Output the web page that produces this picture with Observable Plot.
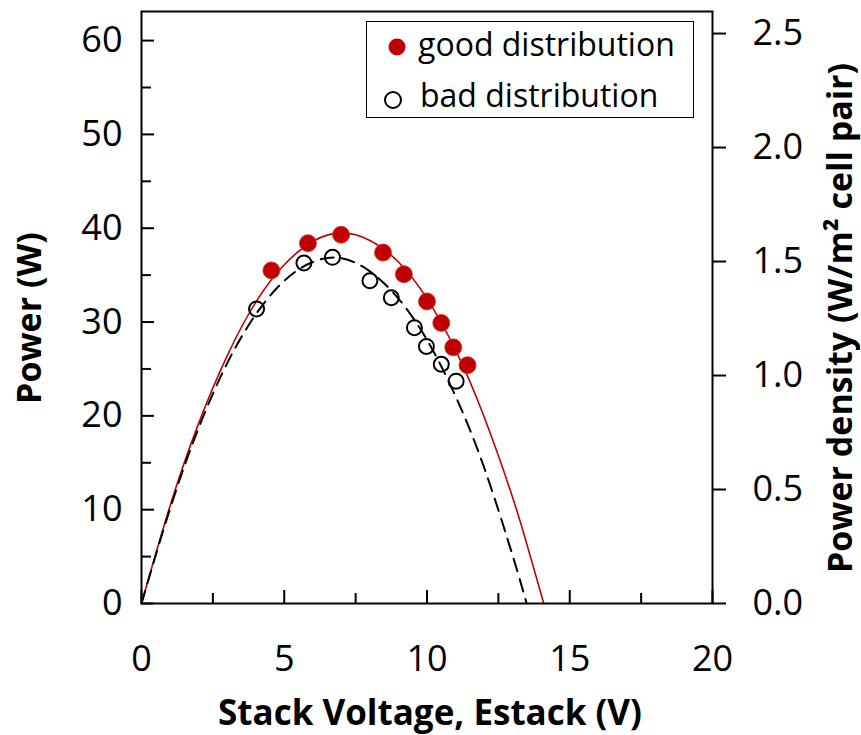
<!DOCTYPE html>
<html><head><meta charset="utf-8">
<script src="https://cdn.jsdelivr.net/npm/d3@7"></script>
<script src="https://cdn.jsdelivr.net/npm/@observablehq/plot@0.6"></script>
<style>
body{margin:0;background:#fff;}
#wrap{position:relative;width:861px;height:735px;font-family:"Open Sans",sans-serif;color:#000;}
#wrap svg{display:block;}
.ttl{position:absolute;font-weight:bold;font-size:35px;line-height:1;white-space:nowrap;}
.leg{position:absolute;font-size:32px;line-height:1;white-space:nowrap;}
#legbox{position:absolute;left:366px;top:21px;width:328px;height:97px;box-sizing:border-box;border:1.5px solid #000;background:#fff;}
</style></head><body>
<div id="wrap"></div>
<script>
// measured points
const goodV = [4.55, 5.83, 6.99, 8.46, 9.19, 10.0, 10.5, 10.92, 11.42];
const goodP = [35.5, 38.4, 39.3, 37.4, 35.1, 32.2, 29.9, 27.3, 25.4];
const badV  = [4.03, 5.69, 6.69, 8.0, 8.75, 9.56, 9.98, 10.5, 11.02];
const badP  = [31.4, 36.3, 36.9, 34.4, 32.6, 29.4, 27.4, 25.5, 23.7];
// fitted curves
const goodFitV = [0, 1, 2, 3, 4, 5, 6, 7, 8, 9, 10, 11, 12, 13, 13.5, 14.09];
const goodFitP = [0, 10.4, 19.2, 26.4, 32.1, 36.1, 38.6, 39.5, 38.7, 36.4, 32.5, 27.0, 19.9, 11.3, 6.3, 0];
const badFitV  = [0, 1, 2, 3, 4, 5, 6, 7, 8, 9, 10, 11, 12, 13, 13.49];
const badFitP  = [0, 10.1, 18.7, 25.6, 30.8, 34.4, 36.4, 36.8, 35.4, 32.5, 28.1, 22.1, 14.5, 5.1, 0];
// axes
const xTicksMajor = [0, 5, 10, 15, 20];
const xTicksMinor = [2.5, 7.5, 12.5, 17.5];
const yTicksMajor = [0, 10, 20, 30, 40, 50, 60];
const yTicksMinor = [5, 15, 25, 35, 45, 55];
const densityTicks = [0, 0.5, 1.0, 1.5, 2.0, 2.5];
const densityLabels = ["0.0", "0.5", "1.0", "1.5", "2.0", "2.5"];
const wattsPerDensity = 24.3;
const seriesNames = ["good distribution", "bad distribution"];
const red = "#C00000";

const good = goodV.map((v, i) => ({v, p: goodP[i]}));
const bad = badV.map((v, i) => ({v, p: badP[i]}));
const goodFit = goodFitV.map((v, i) => ({v, p: goodFitP[i]}));
const badFit = badFitV.map((v, i) => ({v, p: badFitP[i]}));
const densityPos = densityTicks.map(d => d * wattsPerDensity);

const chart = Plot.plot({
  width: 861, height: 735,
  marginLeft: 141, marginRight: 149, marginTop: 11, marginBottom: 132,
  x: {domain: [0, 20]},
  y: {domain: [0, 63.1]},
  style: {fontFamily: "Open Sans, sans-serif", color: "#000", background: "#fff"},
  marks: [
    Plot.axisX(xTicksMajor, {tickSize: -13, tickFormat: () => "", strokeWidth: 2, label: null}),
    Plot.axisX(xTicksMinor, {tickSize: -10, tickFormat: () => "", strokeWidth: 2, label: null}),
    Plot.axisX(xTicksMajor, {tickSize: 0, tickPadding: 42, fontSize: 36, label: null}),
    Plot.axisY(yTicksMajor, {anchor: "left", tickSize: -13, tickFormat: () => "", strokeWidth: 2, label: null}),
    Plot.axisY(yTicksMinor, {anchor: "left", tickSize: -10, tickFormat: () => "", strokeWidth: 2, label: null}),
    Plot.axisY(yTicksMajor, {anchor: "left", tickSize: 0, tickPadding: 19, fontSize: 36, label: null}),
    Plot.axisY(densityPos, {anchor: "right", tickSize: 13, tickPadding: 27, strokeWidth: 2, fontSize: 36, label: null,
      tickFormat: d => densityLabels[densityPos.findIndex(t => Math.abs(t - d) < 1e-6)]}),
    Plot.line(goodFit, {x: "v", y: "p", stroke: red, strokeWidth: 1.6, curve: "natural"}),
    Plot.line(badFit, {x: "v", y: "p", stroke: "#000", strokeWidth: 2, strokeDasharray: "13,8", curve: "natural"}),
    Plot.dot(bad, {x: "v", y: "p", r: 7.5, stroke: "#000", strokeWidth: 2, fill: "none"}),
    Plot.dot(good, {x: "v", y: "p", r: 8.5, fill: red, stroke: "#d03030", strokeWidth: 0.8}),
    Plot.frame({stroke: "#000", strokeWidth: 2})
  ]
});
const wrap = document.getElementById("wrap");
wrap.appendChild(chart);

function addDiv(cls, html, css) {
  const d = document.createElement("div");
  d.className = cls; d.innerHTML = html; d.style.cssText = css;
  wrap.appendChild(d); return d;
}
addDiv("ttl", "Stack Voltage, Estack (V)", "left:430px;top:694px;transform:translateX(-50%);");
addDiv("ttl", "Power (W)", "left:27.5px;top:318px;font-size:34px;transform:translate(-50%,-50%) rotate(-90deg);");
addDiv("ttl", "Power density (W/m² cell pair)", "left:838.5px;top:318px;font-size:34px;transform:translate(-50%,-50%) rotate(-90deg);");

const box = document.createElement("div"); box.id = "legbox"; wrap.appendChild(box);
addDiv("leg", `<svg width="20" height="20" style="position:absolute;left:-31px;top:9px"><circle cx="10" cy="10" r="8.5" fill="${red}"/></svg>${seriesNames[0]}`, "left:418px;top:27.6px;");
addDiv("leg", `<svg width="22" height="22" style="position:absolute;left:-38px;top:9.5px"><circle cx="11" cy="11" r="8" fill="none" stroke="#000" stroke-width="2"/></svg>${seriesNames[1]}`, "left:420px;top:79px;");
</script>
</body></html>
